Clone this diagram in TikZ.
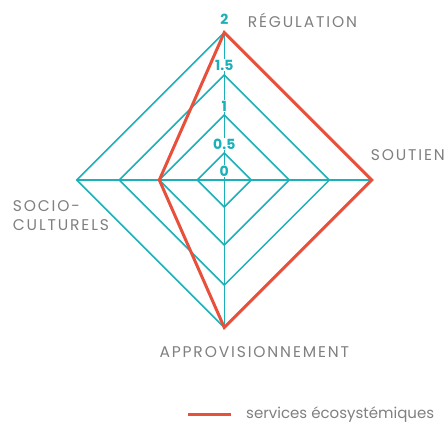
\documentclass[tikz,border=0pt]{standalone}
\usepackage{fontspec}
\setmainfont{Poppins}
\newfontfamily\capsfont[LetterSpace=12]{Poppins}
\definecolor{tealc}{HTML}{1CB0B8}
\definecolor{redc}{HTML}{E9503B}
\definecolor{grayc}{HTML}{808080}
\tikzset{
  ring/.style={draw=tealc, line width=1.5pt},
  valline/.style={draw=redc, line width=3pt, line join=miter},
  numlab/.style={font=\fontsize{14}{16}\selectfont\bfseries, text=tealc, fill=white, inner sep=0.8pt, anchor=base},
  axlab/.style={font=\fontsize{15.5}{17}\selectfont\capsfont, text=grayc, inner sep=0pt, anchor=base west},
  leglab/.style={font=\fontsize{15}{17}\selectfont, text=grayc, inner sep=0pt, anchor=base west}
}
\begin{document}
\begin{tikzpicture}[x=1pt,y=-1pt]
\useasboundingbox[fill=white] (0,0) rectangle (446,423);
\coordinate (c) at (224.3,180);
\foreach \r in {27,65,105,147.5}{
  \draw[ring] (224.3,{180-\r}) -- ({224.3+\r},180) -- (224.3,{180+\r}) -- ({224.3-\r},180) -- cycle;
}
\coordinate (top) at (224.3,32.5);
\coordinate (bot) at (224.3,327.5);
\coordinate (lft) at (76.8,180);
\coordinate (rgt) at (371.8,180);
\draw[ring] (top) -- (bot);
\draw[ring] (lft) -- (rgt);
\node[numlab] (n2) at (224.3,24) {2};
\node[numlab] (n15) at (224.3,70) {1.5};
\node[numlab] (n1) at (224.3,111) {1};
\node[numlab] (n05) at (224.3,149) {0.5};
\node[numlab] (n0) at (224.3,176) {0};
\coordinate (vr) at (224.3,32.5);
\coordinate (vs) at (371.8,180);
\coordinate (va) at (224.3,327.5);
\coordinate (vc) at (159.3,180);
\draw[valline] (vr) -- (vs) -- (va) -- (vc) -- cycle;
\node[axlab] (reg) at (247.7,27.3) {RÉGULATION};
\node[axlab] (sou) at (370.7,160) {SOUTIEN};
\node[axlab] (soc1) at (12.7,211) {SOCIO-};
\node[axlab] (soc2) at (12.7,230) {CULTURELS};
\node[axlab] (app) at (159.3,357.3) {APPROVISIONNEMENT};
\coordinate (l1) at (188.3,414);
\coordinate (l2) at (231,414);
\draw[draw=redc, line width=3pt] (l1) -- (l2);
\node[leglab] (leg) at (246,418) {services écosystémiques};
\end{tikzpicture}
\end{document}
